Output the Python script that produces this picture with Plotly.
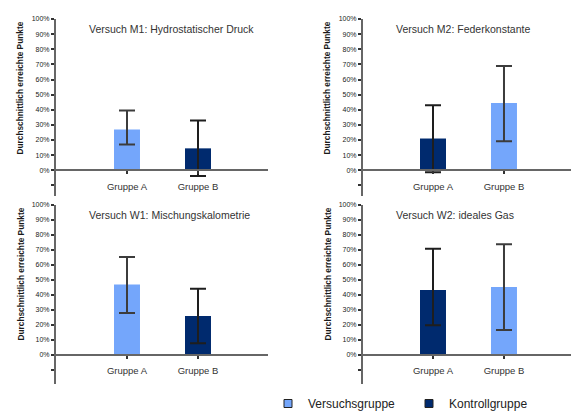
import plotly.graph_objects as go

# ---- data (fractions of maximum points) ----
titles = ["Versuch M1: Hydrostatischer Druck", "Versuch M2: Federkonstante",
          "Versuch W1: Mischungskalometrie", "Versuch W2: ideales Gas"]
groups = ["Gruppe A", "Gruppe B"]
versuch_group = ["Gruppe A", "Gruppe B", "Gruppe A", "Gruppe B"]
kontroll_group = ["Gruppe B", "Gruppe A", "Gruppe B", "Gruppe A"]
versuch_mean = [0.27, 0.445, 0.47, 0.453]
versuch_err_plus = [0.125, 0.245, 0.183, 0.285]
versuch_err_minus = [0.10, 0.253, 0.19, 0.286]
kontroll_mean = [0.145, 0.21, 0.26, 0.433]
kontroll_err_plus = [0.184, 0.22, 0.182, 0.276]
kontroll_err_minus = [0.183, 0.223, 0.182, 0.235]
series_names = ["Versuchsgruppe", "Kontrollgruppe"]
y_title = "Durchschnittlich erreichte Punkte"
tick_vals = [-0.1, 0, 0.1, 0.2, 0.3, 0.4, 0.5, 0.6, 0.7, 0.8, 0.9, 1.0]
tick_text = ["", "0%", "10%", "20%", "30%", "40%", "50%", "60%", "70%", "80%", "90%", "100%"]

LIGHT = "#74a6fb"
DARK = "#002a6e"
ERR = "#3c3c3c"
AXIS = "#666666"
FONT = "Liberation Sans"

W, H = 571, 412

# panel geometry (pixels)
col_x = [(56, 268), (363, 571)]
col_xrange = [[-1.0, 1.986], [-0.986, 1.944]]
row_y = [(19, 196), (205, 384)]
row_yrange = [[-0.17, 1.0], [-0.193, 1.0]]

fig = go.Figure()
layout = {}
annotations = []

for i in range(4):
    r, c = divmod(i, 2)
    n = i + 1
    xa = "x" if n == 1 else f"x{n}"
    ya = "y" if n == 1 else f"y{n}"
    xdom = [col_x[c][0] / W, col_x[c][1] / W]
    ydom = [1 - row_y[r][1] / H, 1 - row_y[r][0] / H]
    yr = row_yrange[r]
    zero_pos = ydom[0] + (0 - yr[0]) / (yr[1] - yr[0]) * (ydom[1] - ydom[0])

    fig.add_trace(go.Bar(
        x=[versuch_group[i]], y=[versuch_mean[i]], xaxis=xa, yaxis=ya,
        width=0.366, marker=dict(color=LIGHT, line=dict(width=0)),
        name=series_names[0], showlegend=False,
        error_y=dict(type="data", symmetric=False, array=[versuch_err_plus[i]],
                     arrayminus=[versuch_err_minus[i]], color=ERR, thickness=2, width=8)))
    fig.add_trace(go.Bar(
        x=[kontroll_group[i]], y=[kontroll_mean[i]], xaxis=xa, yaxis=ya,
        width=0.366, marker=dict(color=DARK, line=dict(width=0)),
        name=series_names[1], showlegend=False,
        error_y=dict(type="data", symmetric=False, array=[kontroll_err_plus[i]],
                     arrayminus=[kontroll_err_minus[i]], color="#1e1e1e", thickness=2, width=8)))

    xkey = "xaxis" if n == 1 else f"xaxis{n}"
    ykey = "yaxis" if n == 1 else f"yaxis{n}"
    layout[xkey] = dict(
        domain=xdom, type="category", categoryorder="array", categoryarray=groups,
        range=col_xrange[c], anchor="free", position=zero_pos, automargin=False,
        showline=True, linecolor=AXIS, linewidth=2, ticks="outside", ticklen=3,
        tickwidth=1.5, tickcolor="#333", ticklabelstandoff=4,
        tickfont=dict(family=FONT, size=9.5, color="#333"),
        showgrid=False, zeroline=False, fixedrange=True)
    layout[ykey] = dict(
        domain=ydom, range=yr, anchor=xa, automargin=False,
        showline=True, linecolor=AXIS, linewidth=2,
        ticks="outside", ticklen=3, tickwidth=1.5, tickcolor="#333",
        tickmode="array", tickvals=tick_vals, ticktext=tick_text,
        tickfont=dict(family=FONT, size=7, color="#222"),
        showgrid=False, zeroline=False, fixedrange=True)

    # panel title
    annotations.append(dict(
        text=titles[i], xref="paper", yref="paper",
        x=(col_x[c][0] + 31) / W, y=1 - (row_y[r][0] + 10) / H,
        xanchor="left", yanchor="middle", showarrow=False,
        font=dict(family=FONT, size=10.5, color="#333")))
    # y-axis title
    annotations.append(dict(
        text=f"<b>{y_title}</b>", xref="paper", yref="paper",
        x=(col_x[c][0] - 36) / W, y=1 - (row_y[r][0] + 69.5) / H,
        xanchor="center", yanchor="middle", textangle=-90, showarrow=False,
        font=dict(family=FONT, size=8.3, color="#1a1a1a")))

# legend entries
for name, col in zip(series_names, [LIGHT, DARK]):
    fig.add_trace(go.Scatter(
        x=[None], y=[None], mode="markers", name=name, showlegend=True,
        marker=dict(symbol="square", size=8, color=col, line=dict(color="#222", width=1))))

fig.update_layout(
    width=W, height=H, margin=dict(l=0, r=0, t=0, b=0, autoexpand=False),
    paper_bgcolor="white", plot_bgcolor="white", barmode="overlay",
    showlegend=True, annotations=annotations,
    legend=dict(orientation="h", x=268 / W, y=-6 / H, xanchor="left", yanchor="bottom",
                entrywidth=96, entrywidthmode="pixels", bgcolor="rgba(0,0,0,0)",
                font=dict(family=FONT, size=12, color="#222"), itemsizing="trace"),
    **layout)

fig.write_html("out.html", config={"displayModeBar": False},
               post_script="document.body.style.margin='0';document.body.style.overflow='hidden';")
